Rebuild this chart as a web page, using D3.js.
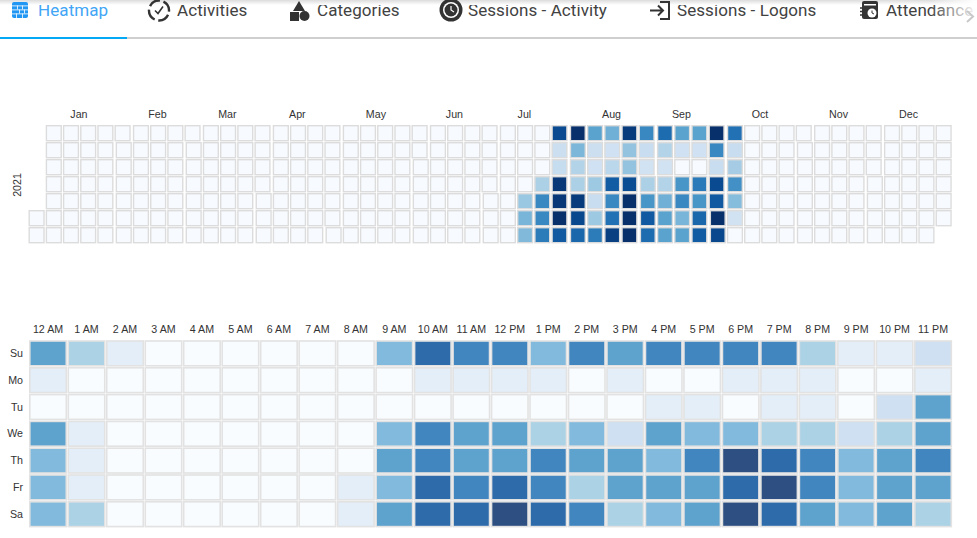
<!DOCTYPE html>
<html>
<head>
<meta charset="utf-8">
<title>Heatmap</title>
<style>
  html, body { margin: 0; padding: 0; background: #fff; overflow: hidden; }
  svg { display: block; }
  .tab { font-family: Roboto, sans-serif; font-size: 17px; fill: #424242; letter-spacing: 0.08px; }
  .tab.active { fill: #42a5f5; }
  .lbl { font-family: "Liberation Sans", Arial, sans-serif; font-size: 10.67px; fill: #333; }
</style>
<script src="https://cdn.jsdelivr.net/npm/d3@7/dist/d3.min.js"></script>
</head>
<body>
<script>
// tabs
var tabNames = ["Heatmap", "Activities", "Categories", "Sessions - Activity", "Sessions - Logons", "Attendance"];
var tabTextX = [38, 177, 317, 468, 677, 886];

// calendar: year view
var yearLabel = "2021";
var monthNames = ["Jan", "Feb", "Mar", "Apr", "May", "Jun", "Jul", "Aug", "Sep", "Oct", "Nov", "Dec"];
// week of year -> values for Su..Sa, every other day of the year is 0
var activeWeeks = [28, 29, 30, 31, 32, 33, 34, 35, 36, 37, 38, 39, 40];
var sunValues = [0, 0, 90, 100, 55, 49, 96, 66, 77, 55, 55, 100, 75];
var monValues = [0, 0, 22, 46, 22, 20, 40, 23, 31, 20, 20, 66, 23];
var tueValues = [0, 0, 24, 31, 20, 28, 40, 19, 19, 0, 0, 23, 35];
var wedValues = [0, 33, 97, 33, 37, 83, 89, 33, 31, 61, 72, 90, 63];
var thuValues = [38, 66, 97, 96, 23, 66, 100, 61, 49, 66, 61, 84, 43];
var friValues = [47, 66, 100, 91, 37, 75, 100, 84, 55, 47, 79, 100, 19];
var satValues = [45, 71, 84, 79, 71, 94, 100, 77, 55, 55, 83, 91, 0];
var calendarRows = [sunValues, monValues, tueValues, wedValues, thuValues, friValues, satValues];

// hour of day heatmap, levels 0-8
var hourLabels = ["12 AM", "1 AM", "2 AM", "3 AM", "4 AM", "5 AM", "6 AM", "7 AM", "8 AM", "9 AM", "10 AM", "11 AM",
                  "12 PM", "1 PM", "2 PM", "3 PM", "4 PM", "5 PM", "6 PM", "7 PM", "8 PM", "9 PM", "10 PM", "11 PM"];
var dayLabels = ["Su", "Mo", "Tu", "We", "Th", "Fr", "Sa"];
var suHours = [5, 3, 1, 0, 0, 0, 0, 0, 0, 4, 7, 6, 6, 4, 6, 5, 6, 6, 6, 6, 3, 1, 1, 2];
var moHours = [1, 0, 0, 0, 0, 0, 0, 0, 0, 0, 1, 1, 1, 1, 0, 1, 0, 0, 1, 1, 1, 0, 0, 1];
var tuHours = [0, 0, 0, 0, 0, 0, 0, 0, 0, 0, 0, 0, 0, 0, 0, 0, 1, 1, 0, 1, 1, 0, 2, 5];
var weHours = [5, 1, 0, 0, 0, 0, 0, 0, 0, 4, 6, 5, 5, 3, 4, 2, 5, 4, 4, 3, 3, 2, 3, 5];
var thHours = [4, 1, 0, 0, 0, 0, 0, 0, 0, 5, 6, 5, 5, 6, 5, 5, 4, 6, 8, 7, 6, 4, 5, 6];
var frHours = [4, 1, 0, 0, 0, 0, 0, 0, 1, 4, 7, 6, 7, 6, 3, 5, 5, 5, 7, 8, 6, 4, 5, 5];
var saHours = [4, 3, 0, 0, 0, 0, 0, 0, 1, 5, 7, 7, 8, 7, 6, 3, 4, 5, 8, 7, 5, 4, 5, 3];
var hourRows = [suHours, moHours, tuHours, weHours, thHours, frHours, saHours];

var w = 977;
var h = 538;

var svg = d3.select("body").append("svg").attr("width", w).attr("height", h);
var defs = svg.append("defs");

var topShade = defs.append("linearGradient").attr("id", "topShade").attr("x1", 0).attr("x2", 0).attr("y1", 0).attr("y2", 1);
topShade.append("stop").attr("offset", 0).attr("stop-color", "#dcdcdc");
topShade.append("stop").attr("offset", 1).attr("stop-color", "#fff");

var fadeRight = defs.append("linearGradient").attr("id", "fadeRight");
fadeRight.append("stop").attr("offset", 0).attr("stop-color", "#fff").attr("stop-opacity", 0);
fadeRight.append("stop").attr("offset", 1).attr("stop-color", "#fff").attr("stop-opacity", 1);

/* ---------- tab bar ---------- */
var tabs = svg.append("g").attr("id", "tabs");

tabs.selectAll("text")
    .data(tabNames)
    .enter()
    .append("text")
    .attr("class", function(d, i) { return i == 0 ? "tab active" : "tab"; })
    .attr("x", function(d, i) { return tabTextX[i]; })
    .attr("y", 16)
    .text(function(d) { return d; });

tabs.append("rect").attr("width", w).attr("height", 5).attr("fill", "url(#topShade)");
tabs.append("rect").attr("x", 0).attr("y", 37).attr("width", w).attr("height", 2).attr("fill", "#cfcfcf");
tabs.append("rect").attr("x", 0).attr("y", 37).attr("width", 127).attr("height", 2).attr("fill", "#03a9f4");
tabs.append("rect").attr("x", 930).attr("y", 0).attr("width", 47).attr("height", 30).attr("fill", "url(#fadeRight)");
tabs.append("path").attr("d", "M967 11 L973 16.5 L967 22").attr("fill", "none").attr("stroke", "#c8c8c8").attr("stroke-width", 2);

// tab icons
var heatIcon = tabs.append("g").attr("transform", "translate(12,2)");
heatIcon.append("rect").attr("width", 16).attr("height", 16).attr("rx", 2).attr("fill", "#2196f3");
[3.5, 7.5, 11.5].forEach(function(y) {
  heatIcon.append("rect").attr("y", y).attr("width", 16).attr("height", 0.8).attr("fill", "#fff");
});
[[5, 3.5, 0.8, 4], [10, 3.5, 0.8, 4], [7, 7.5, 0.8, 4], [12, 7.5, 0.8, 4], [4, 11.5, 0.8, 4.5], [10, 11.5, 0.8, 4.5]].forEach(function(b) {
  heatIcon.append("rect").attr("x", b[0]).attr("y", b[1]).attr("width", b[2]).attr("height", b[3]).attr("fill", "#fff");
});

var actIcon = tabs.append("g").attr("transform", "translate(159,10.5)").attr("fill", "none").attr("stroke", "#333").attr("stroke-width", 2.4);
actIcon.append("circle").attr("r", 10).attr("stroke-dasharray", "12 3.7").attr("transform", "rotate(25)");
actIcon.append("path").attr("d", "M-4 0 L-1 3 L4 -4").attr("stroke-width", 1.6);

var catIcon = tabs.append("g").attr("transform", "translate(290,1)").attr("fill", "#333");
catIcon.append("path").attr("d", "M9 0 L15 10 L3 10 Z");
catIcon.append("rect").attr("y", 11).attr("width", 9).attr("height", 9);
catIcon.append("circle").attr("cx", 14.5).attr("cy", 15).attr("r", 5);

var clockIcon = tabs.append("g").attr("transform", "translate(451,10)");
clockIcon.append("circle").attr("r", 11.5).attr("fill", "#333");
clockIcon.append("circle").attr("r", 8).attr("fill", "#fff");
clockIcon.append("circle").attr("r", 6.5).attr("fill", "#333");
clockIcon.append("path").attr("d", "M0 -4 L0 0 L3 2").attr("fill", "none").attr("stroke", "#fff").attr("stroke-width", 1.2);

var logonIcon = tabs.append("g").attr("transform", "translate(650,1)").attr("fill", "none").attr("stroke", "#333").attr("stroke-width", 2);
logonIcon.append("path").attr("d", "M10 1 L19 1 L19 18 L10 18");
logonIcon.append("path").attr("d", "M0 9.5 L13 9.5 M8 4.5 L13 9.5 L8 14.5");

var attIcon = tabs.append("g").attr("transform", "translate(860,1)");
attIcon.append("rect").attr("x", 2).attr("width", 16).attr("height", 18).attr("rx", 2).attr("fill", "#333");
attIcon.append("rect").attr("x", 4).attr("y", 3).attr("width", 12).attr("height", 1.5).attr("fill", "#fff");
attIcon.append("circle").attr("cx", 12).attr("cy", 12).attr("r", 4.5).attr("fill", "#fff");
attIcon.append("path").attr("d", "M12 9.5 L12 12 L14 13").attr("fill", "none").attr("stroke", "#333").attr("stroke-width", 1);
attIcon.append("path").attr("d", "M0 7 L6 7 M0 10.5 L6 10.5 M0 14 L6 14").attr("stroke", "#333").attr("stroke-width", 1.5);

/* ---------- year calendar ---------- */
var weekX = d3.scaleLinear().domain([0, 52]).range([28.5, 922.9]);
var monthShift = d3.scaleLinear().domain([0, 11]).range([0, 12.65]);
var dayY = d3.scaleBand().domain(d3.range(7)).range([125, 244]);
var calColor = d3.scaleSequential(d3.interpolateBlues).domain([0, 100]);
var calCell = 14.8;

var firstDay = new Date(2021, 0, 1);
var allDays = d3.timeDays(firstDay, new Date(2022, 0, 1));

function weekOf(d) { return d3.timeWeek.count(firstDay, d); }
function dayX(d) { return weekX(weekOf(d)) + monthShift(d.getMonth()); }
function dayValue(d) {
  var k = activeWeeks.indexOf(weekOf(d));
  return k < 0 ? 0 : calendarRows[d.getDay()][k];
}

var calendar = svg.append("g").attr("id", "calendar");

calendar.selectAll("rect")
    .data(allDays)
    .enter()
    .append("rect")
    .attr("x", function(d) { return dayX(d) + 0.7; })
    .attr("y", function(d) { return dayY(d.getDay()) + 0.7; })
    .attr("width", calCell)
    .attr("height", calCell + 0.2)
    .attr("fill", function(d) { return calColor(dayValue(d)); })
    .attr("stroke", "#dcdcdc")
    .attr("stroke-width", 1.4);

calendar.selectAll("text.month")
    .data(monthNames)
    .enter()
    .append("text")
    .attr("class", "lbl month")
    .attr("text-anchor", "middle")
    .attr("y", 118)
    .attr("x", function(d, i) {
      var days = allDays.filter(function(a) { return a.getMonth() == i; });
      return (d3.min(days, dayX) + d3.max(days, dayX) + calCell) / 2;
    })
    .text(function(d) { return d; });

calendar.append("text")
    .attr("class", "lbl")
    .attr("text-anchor", "middle")
    .attr("transform", "translate(21,185) rotate(270)")
    .text(yearLabel);

/* ---------- hour heatmap ---------- */
var hourX = d3.scaleBand().domain(hourLabels).range([28.8, 952.3]);
var hourY = d3.scaleBand().domain(dayLabels).range([340, 527.6]);
var hourColor = d3.scaleOrdinal().domain(d3.range(9)).range(d3.schemeBlues[9]);

var cells = [];
hourRows.forEach(function(row, r) {
  row.forEach(function(level, c) {
    cells.push({day: dayLabels[r], hour: hourLabels[c], level: level});
  });
});

var hours = svg.append("g").attr("id", "hours");

hours.selectAll("rect")
    .data(cells)
    .enter()
    .append("rect")
    .attr("x", function(d) { return hourX(d.hour) + 1; })
    .attr("y", function(d) { return hourY(d.day) + 1; })
    .attr("width", hourX.bandwidth() - 2)
    .attr("height", hourY.bandwidth() - 2)
    .attr("fill", function(d) { return hourColor(d.level); })
    .attr("fill-opacity", 0.85)
    .attr("stroke", "#e2e2e2")
    .attr("stroke-width", 1.6);

hours.selectAll("text.hour")
    .data(hourLabels)
    .enter()
    .append("text")
    .attr("class", "lbl hour")
    .attr("text-anchor", "middle")
    .attr("x", function(d) { return hourX(d) + hourX.bandwidth() / 2; })
    .attr("y", 333)
    .text(function(d) { return d; });

hours.selectAll("text.day")
    .data(dayLabels)
    .enter()
    .append("text")
    .attr("class", "lbl day")
    .attr("text-anchor", "end")
    .attr("x", 23)
    .attr("y", function(d) { return hourY(d) + hourY.bandwidth() / 2 + 3.5; })
    .text(function(d) { return d; });
</script>
</body>
</html>
